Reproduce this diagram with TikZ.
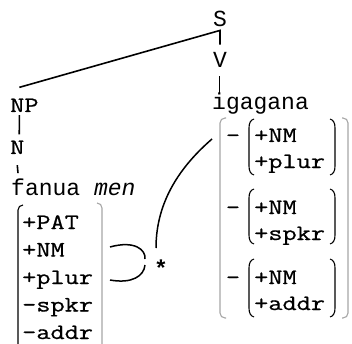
\documentclass[tikz,border=0pt]{standalone}
\usepackage{fontspec}
\setmainfont{Liberation Mono}
\newfontfamily\featfont[FakeStretch=1.25,FakeBold=0.7]{Latin Modern Mono}
\begin{document}
\begin{tikzpicture}[x=1pt,y=-1pt,
  lbl/.style={inner sep=0pt, font=\fontsize{23}{27}\selectfont},
  slbl/.style={inner sep=0pt, font=\featfont\fontsize{22}{27}\selectfont},
  feat/.style={inner sep=0pt, anchor=base west, font=\featfont\fontsize{22}{28}\selectfont},
  tree/.style={line width=1.6pt},
  thin/.style={line width=1pt},
  brk/.style={line width=1.1pt},
  gbrk/.style={line width=1.1pt, draw=gray!70, rounded corners=5pt}]
\useasboundingbox (0,0) rectangle (352,344);

% tree labels
\node[lbl, anchor=base] (S) at (220,27) {S};
\node[lbl, anchor=base] (V) at (220,68) {V};
\node[lbl, anchor=base west] (ig) at (212,110) {igagana};
\node[slbl, anchor=base west] (NP) at (10,112) {NP};
\node[slbl, anchor=base west] (N) at (10,154) {N};
\node[lbl, anchor=base west] (fan) at (11,195) {fanua \textit{men}};

% tree lines
\draw[tree] ([shift={(-5,-11)}]NP.north) -- ([shift={(0,3)}]S.south) -- ([shift={(0,-8)}]V.north);
\draw[thin] ([shift={(-1,8)}]V.south) -- ([shift={(7,0)}]ig.north west);
\draw[tree] ([shift={(-5,3)}]NP.south) -- ([shift={(2,-6)}]N.north);
\draw[tree] ([shift={(0,11)}]N.south) -- ([shift={(7,-5)}]fan.north west);

% left feature list
\node[feat] (l1) at (22,229) {+PAT};
\node[feat] (l2) at (22,256.5) {+NM};
\node[feat] (l3) at (22,284) {+plur};
\node[feat] (l4) at (22,311.5) {-spkr};
\node[feat] (l5) at (22,339) {-addr};
\draw[brk, rounded corners=5pt] (23,205) -- (18,205) -- (18,350);
\draw[gbrk] (97,203) -- (102,203) -- (102,350);

% right feature list
\foreach \s/\a/\b in {142/+NM/+plur, 214/+NM/+spkr, 284/+NM/+addr} {
  \node[feat, anchor=base] at (233,\s) {-};
  \node[feat] at (254,\s) {\a};
  \node[feat] at (254,\s+26) {\b};
}
\foreach \t/\b in {119/175, 189/244, 259/317} {
  \draw[brk] (254,\t) .. controls (250.5,\t+1) and (249,\t+4) .. (249,\t+9)
     -- (249,\b-9) .. controls (249,\b-4) and (250.5,\b-1) .. (254,\b);
  \draw[brk] (330,\t) .. controls (333.5,\t+1) and (335,\t+4) .. (335,\t+9)
     -- (335,\b-9) .. controls (335,\b-4) and (333.5,\b-1) .. (330,\b);
}
\draw[gbrk] (226,118) -- (220,118) -- (220,318) -- (226,318);
\draw[gbrk] (342,118) -- (348,118) -- (348,318) -- (342,318);

% agreement link
\node[inner sep=0pt, anchor=base, font=\fontsize{23}{27}\selectfont\bfseries] (star) at (161,276) {*};
\coordinate (top) at (212,139);
\coordinate (bot) at (156,248);
\draw[tree, line width=1.5pt] (top) .. controls (182,165) and (156,200) .. (bot);
\draw[tree, line width=1.5pt] (110,247) .. controls (135,240) and (146,250) .. (145,259);
\draw[tree, line width=1.5pt] (145,265) .. controls (144,276) and (132,284) .. (110,280);
\end{tikzpicture}
\end{document}
